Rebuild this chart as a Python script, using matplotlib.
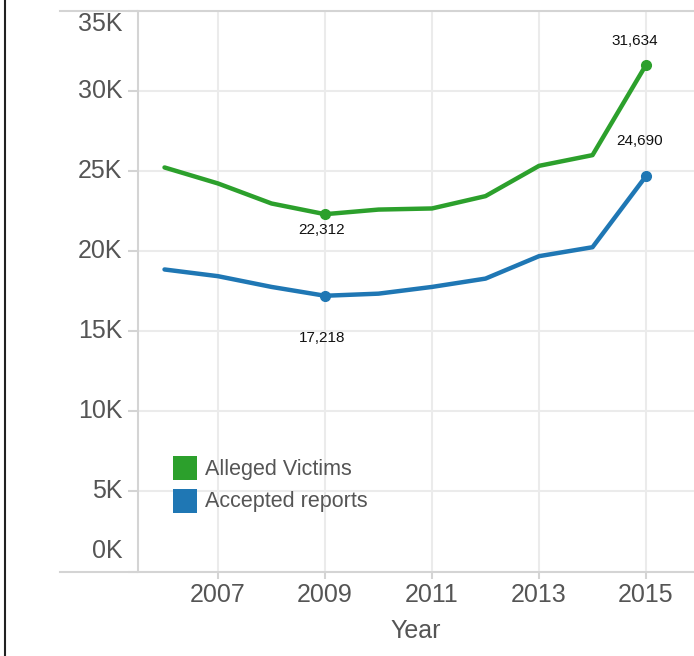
import matplotlib
matplotlib.use("Agg")
import matplotlib.pyplot as plt
from matplotlib.lines import Line2D
from matplotlib.patches import Rectangle
import matplotlib.transforms as mtransforms

years = [2006, 2007, 2008, 2009, 2010, 2011, 2012, 2013, 2014, 2015]
alleged_victims = [25230, 24230, 22980, 22312, 22600, 22670, 23440, 25330, 26000, 31634]
accepted_reports = [18860, 18440, 17770, 17218, 17350, 17770, 18290, 19690, 20250, 24690]
x_ticks = [2007, 2009, 2011, 2013, 2015]
y_ticks = [0, 5000, 10000, 15000, 20000, 25000, 30000, 35000]
y_tick_labels = ["0K", "5K", "10K", "15K", "20K", "25K", "30K", "35K"]
series_names = ["Alleged Victims", "Accepted reports"]
annotated = {"Alleged Victims": [(2009, 22312, "22,312"), (2015, 31634, "31,634")],
             "Accepted reports": [(2009, 17218, "17,218"), (2015, 24690, "24,690")]}

GREEN = "#2ca02c"
BLUE = "#1f77b4"
GRID = "#ebebeb"
AXIS = "#d4d4d4"
TXT = "#555555"

plt.rcParams['font.family'] = ['Liberation Sans', 'DejaVu Sans']

W, H = 694, 656
fig = plt.figure(figsize=(W / 100, H / 100), dpi=100)
ax_l, ax_r, ax_t, ax_b = 137.5, 694, 11, 571.5
ax = fig.add_axes([ax_l / W, 1 - ax_b / H, (ax_r - ax_l) / W, (ax_b - ax_t) / H])

ax.set_xlim(2005.495, 2015.897)
ax.set_ylim(0, 35000)

for s in ax.spines.values():
    s.set_visible(False)
ax.spines['left'].set_visible(True)
ax.spines['left'].set_color(AXIS)
ax.spines['left'].set_linewidth(1.5)

ax.set_xticks(x_ticks)
ax.set_xticklabels([str(x) for x in x_ticks])
ax.set_yticks(y_ticks)
ax.set_yticklabels(y_tick_labels)
ax.tick_params(axis='x', length=5, width=1.5, color=AXIS, labelsize=18, labelcolor=TXT, pad=3)
ax.tick_params(axis='y', length=7, width=1.5, color=AXIS, labelsize=18, labelcolor=TXT, pad=4)
ax.grid(True, color=GRID, linewidth=1.5)
ax.set_axisbelow(True)

# clamp first / last y tick labels inside the axes
labels = ax.get_yticklabels()
labels[0].set_va('bottom')
labels[0].set_transform(labels[0].get_transform() + mtransforms.ScaledTranslation(0, 8 / 100, fig.dpi_scale_trans))
labels[-1].set_va('top')
labels[-1].set_transform(labels[-1].get_transform() + mtransforms.ScaledTranslation(0, -1 / 100, fig.dpi_scale_trans))
for lb in labels[1:-1]:
    lb.set_transform(lb.get_transform() + mtransforms.ScaledTranslation(0, 3 / 100, fig.dpi_scale_trans))

ax.set_xlabel("Year", fontsize=18, color=TXT, labelpad=9)

ax.plot(years, alleged_victims, color=GREEN, linewidth=3.2, solid_capstyle='round', solid_joinstyle='round', zorder=3)
ax.plot(years, accepted_reports, color=BLUE, linewidth=3.2, solid_capstyle='round', solid_joinstyle='round', zorder=3)

for name, color in zip(series_names, [GREEN, BLUE]):
    for (yr, val, txt) in annotated[name]:
        ax.plot([yr], [val], 'o', color=color, markersize=7, zorder=4)

# annotations
ax.annotate("22,312", (2009, 22312), xytext=(-3, -16), textcoords='offset pixels',
            ha='center', va='center', fontsize=11, color='#111111')
ax.annotate("17,218", (2009, 17218), xytext=(-3, -42), textcoords='offset pixels',
            ha='center', va='center', fontsize=11, color='#111111')
ax.annotate("31,634", (2015, 31634), xytext=(-11, 24), textcoords='offset pixels',
            ha='center', va='center', fontsize=11, color='#111111')
ax.annotate("24,690", (2015, 24690), xytext=(-6, 35), textcoords='offset pixels',
            ha='center', va='center', fontsize=11, color='#111111')

# legend (manual, figure pixels)
for i, (name, color) in enumerate(zip(series_names, [GREEN, BLUE])):
    y0 = 456 + i * 33
    fig.add_artist(Rectangle((173 / W, 1 - (y0 + 24) / H), 24 / W, 24 / H,
                             transform=fig.transFigure, facecolor=color, edgecolor='none'))
    fig.text(205 / W, 1 - (y0 + 13) / H, name, fontsize=15.5, color=TXT, ha='left', va='center')

# top and bottom rule lines, left black border
fig.add_artist(Line2D([60 / W, 1], [1 - 11 / H, 1 - 11 / H], color=AXIS, linewidth=1.5, transform=fig.transFigure))
fig.add_artist(Line2D([60 / W, 1], [1 - 571.5 / H, 1 - 571.5 / H], color=AXIS, linewidth=1.5, transform=fig.transFigure))
fig.add_artist(Line2D([4.5 / W, 4.5 / W], [0, 1], color='#222222', linewidth=1.5, transform=fig.transFigure))

fig.savefig("out.png", dpi=100)
